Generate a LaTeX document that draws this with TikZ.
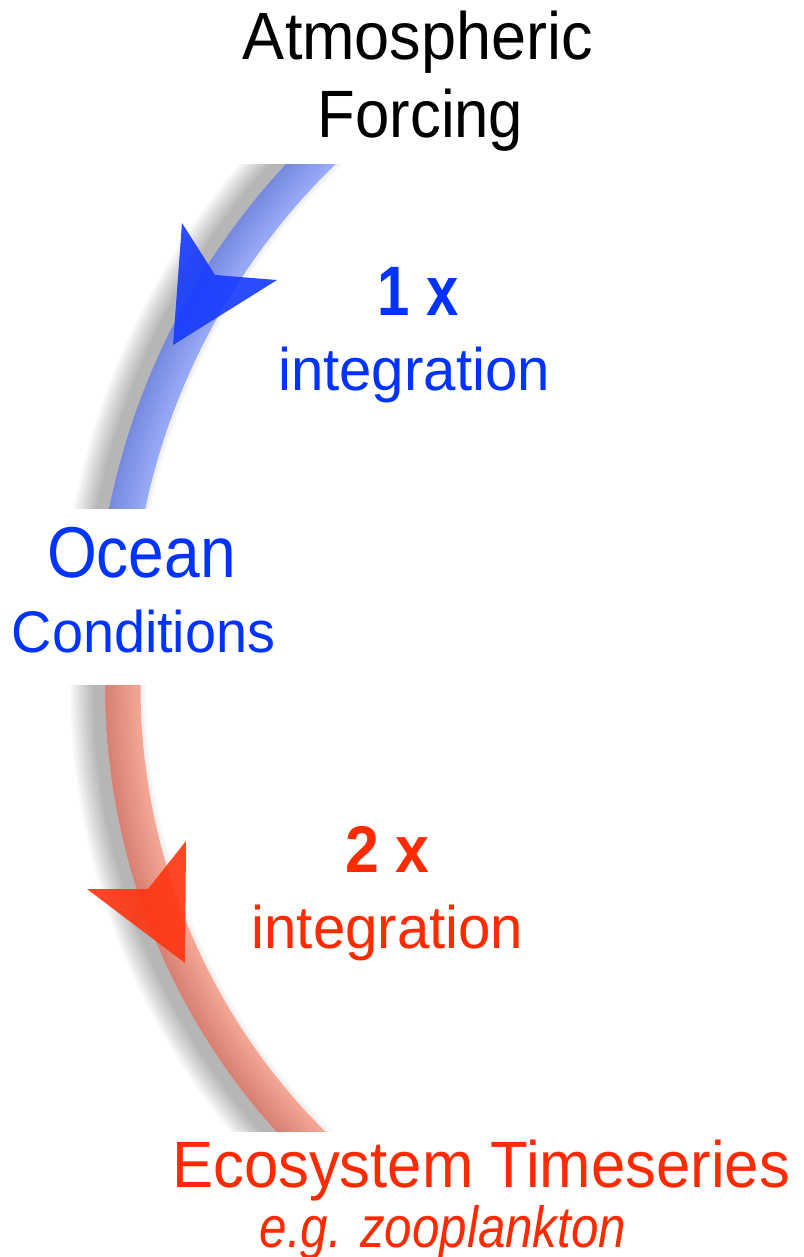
\documentclass[tikz,border=0pt]{standalone}
\usepackage{fontspec}
\setmainfont{Liberation Sans}
\definecolor{tblue}{RGB}{0,51,255}
\definecolor{tred}{RGB}{255,42,0}
\definecolor{ablue}{RGB}{22,58,255}
\definecolor{ared}{RGB}{255,52,16}
\definecolor{bluelight}{RGB}{152,170,247}
\definecolor{bluedark}{RGB}{120,138,222}
\definecolor{redlight}{RGB}{244,166,148}
\definecolor{reddark}{RGB}{215,130,116}
\tikzset{
  lbl/.style={inner sep=0pt, outer sep=0pt, anchor=base},
}
\newcommand{\lbltext}[4]{\scalebox{#2}[1]{\fontsize{#1}{#1}\selectfont #3#4}}
\begin{document}
\begin{tikzpicture}[x=1pt,y=-1pt]
\useasboundingbox (0,0) rectangle (803,1257);
\fill[white] (0,0) rectangle (803,1257);

% ---------- blue arc ----------
\begin{scope}
  \clip (0,165) rectangle (803,508);
  \foreach \k in {0,...,9}{
    \pgfmathsetmacro\lw{30+5*\k}
    \draw[black, opacity=0.033, line width=\lw pt] (806.5,649) ++(230:708.5) arc[start angle=230, end angle=185, radius=708.5];
  }
  \draw[bluelight, line width=35pt] (806.5,649) ++(230:693.5) arc[start angle=230, end angle=185, radius=693.5];
  \foreach \i in {1,...,12}{
    \pgfmathsetmacro\w{35-2.7*\i}
    \pgfmathsetmacro\rr{693.5+1.35*\i}
    \pgfmathtruncatemacro\p{100*\i/12}
    \draw[bluedark!\p!bluelight, line width=\w pt] (806.5,649) ++(230:\rr) arc[start angle=230, end angle=185, radius=\rr];
  }
\end{scope}

% ---------- red arc ----------
\begin{scope}
  \clip (0,685) rectangle (803,1131);
  \foreach \k in {0,...,9}{
    \pgfmathsetmacro\lw{30+5*\k}
    \draw[black, opacity=0.033, line width=\lw pt] (768,687) ++(185:660) arc[start angle=185, end angle=130, radius=660];
  }
  \draw[redlight, line width=35pt] (768,687) ++(185:645) arc[start angle=185, end angle=130, radius=645];
  \foreach \i in {1,...,12}{
    \pgfmathsetmacro\w{35-2.7*\i}
    \pgfmathsetmacro\rr{645+1.35*\i}
    \pgfmathtruncatemacro\p{100*\i/12}
    \draw[reddark!\p!redlight, line width=\w pt] (768,687) ++(185:\rr) arc[start angle=185, end angle=130, radius=\rr];
  }
\end{scope}

% ---------- arrowheads ----------
\fill[ablue, opacity=0.9] (173,345) -- (182,223) -- (215,275) -- (277,280) -- cycle;
\fill[ared, opacity=0.9] (185,963) -- (186,841) -- (148,889) -- (87,889) -- cycle;

% ---------- labels ----------
\node[lbl] (atm1) at (418,60) {\lbltext{67}{0.94}{}{Atmospheric}};
\node[lbl] (atm2) at (420.5,138) {\lbltext{67}{0.92}{}{Forcing}};
\node[lbl, text=tblue] (one) at (418,315) {\lbltext{70}{0.83}{\bfseries}{1 x}};
\node[lbl, text=tblue] (int1) at (414,390) {\lbltext{60}{0.97}{}{integration}};
\node[lbl, text=tblue] (ocean) at (141.5,577) {\lbltext{72}{0.89}{}{Ocean}};
\node[lbl, text=tblue] (cond) at (143.5,652) {\lbltext{58.7}{0.95}{}{Conditions}};
\node[lbl, text=tred] (two) at (387.5,872) {\lbltext{66}{0.92}{\bfseries}{2 x}};
\node[lbl, text=tred] (int2) at (387.5,948) {\lbltext{60}{0.97}{}{integration}};
\node[lbl, text=tred] (eco) at (481,1187) {\lbltext{65.6}{0.94}{}{Ecosystem Timeseries}};
\node[lbl, text=tred] (zoo) at (443,1247) {\lbltext{58}{0.85}{\itshape}{e.g. zooplankton}};
\end{tikzpicture}
\end{document}
